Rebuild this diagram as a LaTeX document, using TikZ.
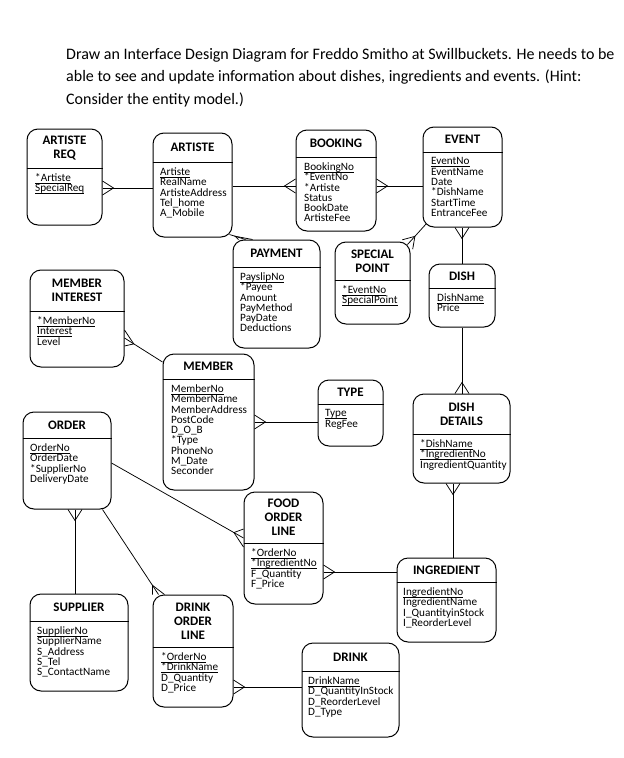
\documentclass[tikz,border=0pt]{standalone}
\usepackage{fontspec}
\setmainfont{Carlito}
\usetikzlibrary{calc,fit}
\tikzset{
  entity/.style={draw, rounded corners=11pt, line width=1pt, inner sep=0pt},
  head/.style={font=\fontsize{13}{14}\selectfont\bfseries, align=center, inner sep=0pt},
  attrs/.style={font=\fontsize{11.2}{10.3}\selectfont, align=left, anchor=north west, inner sep=0pt},
  link/.style={line width=0.75pt},
  ask/.style={font=\fontsize{16}{17}\selectfont, anchor=base west, inner sep=0pt}
}
% crow's foot: #1 end on the box, #2 other end, #3 half spread
\newcommand{\crowfoot}[3]{\draw[link] ($(#1)+(#3)$) -- ($(#1)!11pt!(#2)$) -- ($(#1)-(#3)$);}
\newcommand{\key}[1]{\rlap{\underline{\smash{\phantom{#1}}}}#1}
\begin{document}
\begin{tikzpicture}[x=1pt,y=-1pt]
\fill[white] (0,0) rectangle (624,758);
\useasboundingbox (0,0) rectangle (624,758);
\node[ask] (q1) at (66,59) {Draw an Interface Design Diagram for Freddo Smitho at Swillbuckets. He needs to be};
\node[ask] (q2) at (66,81.5) {able to see and update information about dishes, ingredients and events. (Hint:};
\node[ask] (q3) at (66,104) {Consider the entity model.)};

\node[entity, fit={(27,129) (102,225)}] (artreq) {};
\draw[line width=1pt] (artreq.west |- 0,168) -- (artreq.east |- 0,168);
\node[head] (artreqT) at (64.5,148.5) {ARTISTE\\REQ};
\node[attrs] (artreqA) at (35,173.5) {\key{*Artiste}\\\key{SpecialReq}};

\node[entity, fit={(153,133) (232,237)}] (artiste) {};
\draw[line width=1pt] (artiste.west |- 0,162) -- (artiste.east |- 0,162);
\node[head] (artisteT) at (192.5,147.5) {ARTISTE};
\node[attrs] (artisteA) at (160,167.5) {\key{Artiste}\\RealName\\ArtisteAddress\\Tel\_home\\A\_Mobile};

\node[entity, fit={(296,130) (376,231)}] (booking) {};
\draw[line width=1pt] (booking.west |- 0,157) -- (booking.east |- 0,157);
\node[head] (bookingT) at (336,143.5) {BOOKING};
\node[attrs] (bookingA) at (304,162.5) {\key{BookingNo}\\*EventNo\\*Artiste\\Status\\BookDate\\ArtisteFee};

\node[entity, fit={(423,127) (502,227)}] (event) {};
\draw[line width=1pt] (event.west |- 0,152) -- (event.east |- 0,152);
\node[head] (eventT) at (462.5,139.5) {EVENT};
\node[attrs] (eventA) at (431,157.5) {\key{EventNo}\\EventName\\Date\\*DishName\\StartTime\\EntranceFee};

\node[entity, fit={(233,240) (320,348)}] (payment) {};
\draw[line width=1pt] (payment.west |- 0,267) -- (payment.east |- 0,267);
\node[head] (paymentT) at (276.5,253.5) {PAYMENT};
\node[attrs] (paymentA) at (240,272.5) {\key{PayslipNo}\\*Payee\\Amount\\PayMethod\\PayDate\\Deductions};

\node[entity, fit={(335,242) (410,324)}] (special) {};
\draw[line width=1pt] (special.west |- 0,280) -- (special.east |- 0,280);
\node[head] (specialT) at (372.5,261) {SPECIAL\\POINT};
\node[attrs] (specialA) at (342,285.5) {\key{*EventNo}\\\key{SpecialPoint}};

\node[entity, fit={(429,264) (495,327)}] (dish) {};
\draw[line width=1pt] (dish.west |- 0,288) -- (dish.east |- 0,288);
\node[head] (dishT) at (462,276) {DISH};
\node[attrs] (dishA) at (437,293.5) {\key{DishName}\\Price};

\node[entity, fit={(30,270) (124,367)}] (meminterest) {};
\draw[line width=1pt] (meminterest.west |- 0,311) -- (meminterest.east |- 0,311);
\node[head] (meminterestT) at (77,290.5) {MEMBER\\INTEREST};
\node[attrs] (meminterestA) at (37,316.5) {\key{*MemberNo}\\\key{Interest}\\Level};

\node[entity, fit={(163,354) (254,490)}] (member) {};
\draw[line width=1pt] (member.west |- 0,379) -- (member.east |- 0,379);
\node[head] (memberT) at (208.5,366.5) {MEMBER};
\node[attrs] (memberA) at (171,384.5) {\key{MemberNo}\\MemberName\\MemberAddress\\PostCode\\D\_O\_B\\*Type\\PhoneNo\\M\_Date\\Seconder};

\node[entity, fit={(318,380) (383,446)}] (type) {};
\draw[line width=1pt] (type.west |- 0,404) -- (type.east |- 0,404);
\node[head] (typeT) at (350.5,392) {TYPE};
\node[attrs] (typeA) at (325,409.5) {\key{Type}\\RegFee};

\node[entity, fit={(413,394) (510,483)}] (dishdet) {};
\draw[line width=1pt] (dishdet.west |- 0,434) -- (dishdet.east |- 0,434);
\node[head] (dishdetT) at (461.5,414) {DISH\\DETAILS};
\node[attrs] (dishdetA) at (420,439.5) {\key{*DishName}\\\key{*IngredientNo}\\IngredientQuantity};

\node[entity, fit={(23,412) (111,509)}] (order) {};
\draw[line width=1pt] (order.west |- 0,438) -- (order.east |- 0,438);
\node[head] (orderT) at (67,425) {ORDER};
\node[attrs] (orderA) at (30,443.5) {\key{OrderNo}\\OrderDate\\*SupplierNo\\DeliveryDate};

\node[entity, fit={(244,492) (323,604)}] (fol) {};
\draw[line width=1pt] (fol.west |- 0,543) -- (fol.east |- 0,543);
\node[head] (folT) at (283.5,517.5) {FOOD\\ORDER\\LINE};
\node[attrs] (folA) at (251,548.5) {\key{*OrderNo}\\\key{*IngredientNo}\\F\_Quantity\\F\_Price};

\node[entity, fit={(397,558) (496,642)}] (ingr) {};
\draw[line width=1pt] (ingr.west |- 0,582) -- (ingr.east |- 0,582);
\node[head] (ingrT) at (446.5,570) {INGREDIENT};
\node[attrs] (ingrA) at (403,587.5) {\key{IngredientNo}\\IngredientName\\I\_QuantityinStock\\I\_ReorderLevel};

\node[entity, fit={(30,594) (128,691)}] (supplier) {};
\draw[line width=1pt] (supplier.west |- 0,621) -- (supplier.east |- 0,621);
\node[head] (supplierT) at (79,607.5) {SUPPLIER};
\node[attrs] (supplierA) at (37,626.5) {\key{SupplierNo}\\SupplierName\\S\_Address\\S\_Tel\\S\_ContactName};

\node[entity, fit={(153,595) (233,707)}] (dol) {};
\draw[line width=1pt] (dol.west |- 0,647) -- (dol.east |- 0,647);
\node[head] (dolT) at (193,621) {DRINK\\ORDER\\LINE};
\node[attrs] (dolA) at (161,652.5) {\key{*OrderNo}\\\key{*DrinkName}\\D\_Quantity\\D\_Price};

\node[entity, fit={(302,643) (399,737)}] (drink) {};
\draw[line width=1pt] (drink.west |- 0,671) -- (drink.east |- 0,671);
\node[head] (drinkT) at (350.5,657) {DRINK};
\node[attrs] (drinkA) at (308,676.5) {\key{DrinkName}\\D\_QuantityInStock\\D\_ReorderLevel\\D\_Type};

% links
\draw[link] (artreq.east |- 0,188) -- (artiste.west |- 0,188);
\crowfoot{artreq.east |- 0,188}{artiste.west |- 0,188}{0,7}
\draw[link] (artiste.east |- 0,186) -- (booking.west |- 0,186);
\crowfoot{booking.west |- 0,186}{artiste.east |- 0,186}{0,7}
\draw[link] (booking.east |- 0,186) -- (event.west |- 0,186);
\crowfoot{booking.east |- 0,186}{event.west |- 0,186}{0,7}
\coordinate (artisteP) at ([shift={(-3,-3)}]artiste.south east);
\coordinate (paymentA) at ([xshift=13pt]payment.north west);
\draw[link] (artisteP) -- (paymentA);
\crowfoot{paymentA}{artisteP}{7,0}
\coordinate (eventS) at ([shift={(4,-4)}]event.south west);
\coordinate (specialE) at ([shift={(-3,3)}]special.north east);
\draw[link] (eventS) -- (specialE);
\crowfoot{specialE}{eventS}{5.2,4.7}
\draw[link] (dish.north) -- (dish.north |- event.south);
\crowfoot{dish.north |- event.south}{dish.north}{7,0}
\draw[link] (meminterest.east |- 0,338) -- (member.west |- 0,362);
\crowfoot{meminterest.east |- 0,338}{member.west |- 0,362}{0,8}
\draw[link] (member.east |- 0,422) -- (type.west |- 0,422);
\crowfoot{member.east |- 0,422}{type.west |- 0,422}{0,7}
\draw[link] (dish.south) -- (dish.south |- dishdet.north);
\crowfoot{dish.south |- dishdet.north}{dish.south}{7,0}
\draw[link] (order.east |- 0,463) -- (fol.west |- 0,538);
\crowfoot{fol.west |- 0,538}{order.east |- 0,463}{0,9}
\draw[link] (fol.east |- 0,572) -- (ingr.west |- 0,572);
\crowfoot{fol.east |- 0,572}{ingr.west |- 0,572}{0,7}
\draw[link] (dishdet.south -| 453,0) -- (ingr.north -| 453,0);
\crowfoot{dishdet.south -| 453,0}{ingr.north -| 453,0}{7,0}
\draw[link] (order.south -| 75,0) -- (supplier.north -| 75,0);
\crowfoot{order.south -| 75,0}{supplier.north -| 75,0}{7,0}
\coordinate (orderD) at ([xshift=-9pt]order.south east);
\coordinate (dolO) at ([xshift=6pt]dol.north west);
\draw[link] (orderD) -- (dolO);
\crowfoot{dolO}{orderD}{6,0}
\draw[link] (dol.east |- 0,687) -- (drink.west |- 0,687);
\crowfoot{dol.east |- 0,687}{drink.west |- 0,687}{0,7}
\end{tikzpicture}
\end{document}
